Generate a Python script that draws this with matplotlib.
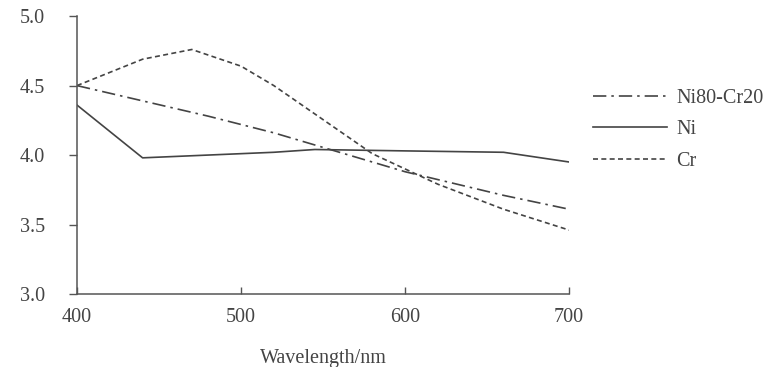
import matplotlib
matplotlib.use("Agg")
import matplotlib.pyplot as plt

# wavelength samples (nm) and values
wl_nicr = [400, 440, 480, 520, 560, 600, 660, 700]
nicr = [4.50, 4.39, 4.28, 4.16, 4.02, 3.88, 3.71, 3.61]

wl_ni = [400, 440, 520, 545, 600, 660, 700]
ni = [4.36, 3.98, 4.02, 4.04, 4.03, 4.02, 3.95]

wl_cr = [400, 440, 470, 500, 520, 580, 620, 660, 700]
cr = [4.50, 4.69, 4.76, 4.64, 4.50, 4.01, 3.79, 3.61, 3.46]

labels = ["Ni80-Cr20", "Ni", "Cr"]
xticks = [400, 500, 600, 700]
yticks = [3.0, 3.5, 4.0, 4.5, 5.0]

plt.rcParams["font.family"] = ["Liberation Serif", "DejaVu Serif"]
ink = "#444444"

fig = plt.figure(figsize=(7.69, 3.67), dpi=100)
ax = fig.add_axes([0.1001, 0.199, 0.640, 0.757])

ax.plot(wl_nicr, nicr, color=ink, lw=1.2, dashes=(8, 3, 1.5, 3), label=labels[0])
ax.plot(wl_ni, ni, color=ink, lw=1.2, label=labels[1])
ax.plot(wl_cr, cr, color=ink, lw=1.2, dashes=(3, 2), label=labels[2])

ax.set_xlim(400, 700)
ax.set_ylim(3.0, 5.0)
ax.set_xticks(xticks)
ax.set_yticks(yticks)
ax.set_yticklabels([f"{v:.1f}" for v in yticks])

for side in ("top", "right"):
    ax.spines[side].set_visible(False)
for side in ("left", "bottom"):
    ax.spines[side].set_color("#555555")
    ax.spines[side].set_linewidth(1.1)

ax.tick_params(axis="x", direction="in", length=5, width=1, color="#555555",
               pad=10, labelsize=14.5, labelcolor=ink)
ax.tick_params(axis="y", direction="out", length=6, width=1, color="#555555",
               pad=17, labelsize=14.5, labelcolor=ink)

ax.set_xlabel("Wavelength/nm", fontsize=14.5, color=ink, labelpad=16)

fig.legend(loc="center left", bbox_to_anchor=(0.771, 0.646), frameon=False,
           fontsize=14.5, handlelength=3.7, handletextpad=0.45,
           labelspacing=0.6, borderpad=0, borderaxespad=0, labelcolor=ink)

fig.savefig("out.png", dpi=100)
